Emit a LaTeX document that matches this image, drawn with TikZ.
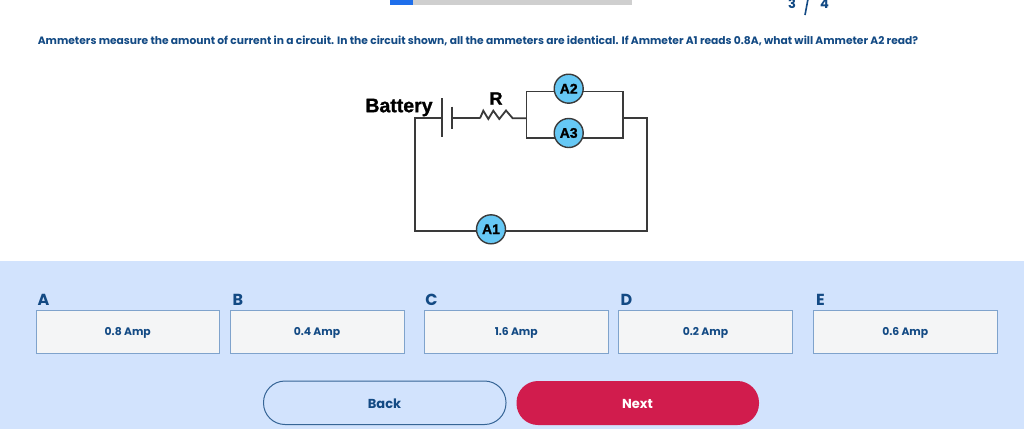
\documentclass[tikz,border=0pt]{standalone}
\usepackage{fontspec}
\setmainfont{Poppins}
\newfontfamily\wirefont{Liberation Sans Bold}[FakeBold=1.2]
\definecolor{navy}{HTML}{134A84}
\definecolor{panel}{HTML}{D2E3FD}
\definecolor{boxfill}{HTML}{F4F5F6}
\definecolor{boxline}{HTML}{7FA3CC}
\definecolor{meter}{HTML}{66C8F5}
\definecolor{wire}{HTML}{3A3A3A}
\definecolor{nextred}{HTML}{D11C4D}
\definecolor{barblue}{HTML}{1F6FEB}
\definecolor{bargrey}{HTML}{CFCFCF}
\tikzset{
  uitext/.style={text=navy,font=\bfseries\fontsize{#1}{#1}\selectfont,inner sep=0pt,anchor=center},
  answer/.style={draw=boxline,line width=1pt,fill=boxfill,inner sep=0pt,rectangle},
  meternode/.style={circle,draw=wire,line width=1.4pt,fill=meter,minimum size=29pt,inner sep=0pt,text=black,font=\wirefont\fontsize{14}{14}\selectfont},
  wireline/.style={draw=wire,line width=1.8pt,line join=miter},
  circlabel/.style={inner sep=0pt,text=black,font=\wirefont\fontsize{#1}{#1}\selectfont},
  pillbtn/.style={rounded corners=21.5pt,line width=1pt}
}
\begin{document}
\begin{tikzpicture}[x=1pt,y=-1pt]
\useasboundingbox (0,0) rectangle (1024,429);
\clip (0,0) rectangle (1024,429);
\fill[white] (0,0) rectangle (1024,429);
\fill[panel] (0,261) rectangle (1024,429);
% progress
\fill[bargrey] (390,-2) rectangle (632,5);
\fill[barblue] (390,-2) rectangle (413,5);
\node[uitext=13] (numa) at (792,3.5) {3};
\node[uitext=13] (numb) at (824.5,3.5) {4};
\draw[navy,line width=1.6pt] (808,-1) -- (805,15);
% question
\node[uitext=10.7] (question) at (478,40.5) {Ammeters measure the amount of current in a circuit. In the circuit shown, all the ammeters are identical. If Ammeter A1 reads 0.8A, what will Ammeter A2 read?};
% circuit
\coordinate (bl) at (414.7,231);
\coordinate (br) at (647,231);
\coordinate (tl) at (414.7,118);
\coordinate (tr) at (647,118);
\coordinate (rin) at (480,118.3);
\coordinate (rout) at (512.7,118.3);
\coordinate (jl) at (526.5,118.3);
\coordinate (jr) at (622.7,118);
\coordinate (plong) at (441.7,118);
\coordinate (pshort) at (452.3,118.3);
\coordinate (ltop) at (526.5,91.5);
\coordinate (rtop) at (622.7,91.5);
\coordinate (lbot) at (526.5,137.7);
\coordinate (rbot) at (622.7,137.7);
\draw[wireline] (plong) -- (tl) -- (bl) -- (br) -- (tr) -- (jr);
\draw[wireline] (ltop) -- (rtop) -- (rbot) -- (lbot) -- cycle;
\draw[wireline] (pshort) -- (rin);
\draw[wireline] (rin) -- (483.3,110.7) -- (488.3,119) -- (493.3,110.7) -- (499.3,119) -- (506,110.5) -- (rout) -- (jl);
\draw[wireline] (441.7,98.3) -- (441.7,137.3);
\draw[wireline] (452.3,106.7) -- (452.3,129.3);
\node[meternode] (a2) at (568.7,88.7) {A2};
\node[meternode] (a3) at (568.7,133) {A3};
\node[meternode] (a1) at (491,229.3) {A1};
\node[circlabel=19.5] (battery) at (399,107.5) {Battery};
\node[circlabel=18] (rlabel) at (496,98.5) {R};
% answers
\foreach \nm/\xa/\xb/\lx/\letter/\val in {
  boxa/36/219.5/43.5/A/0.8 Amp,
  boxb/230/404/238/B/0.4 Amp,
  boxc/424/608.5/431.5/C/1.6 Amp,
  boxd/618.5/792.5/626.5/D/0.2 Amp,
  boxe/813.5/997/820.5/E/0.6 Amp}{
  \draw[answer] (\xa,310) rectangle (\xb,353.5);
  \node[uitext=10.8] (\nm) at ({(\xa+\xb)/2},332.5) {\val};
  \node[uitext=16] (\nm-l) at (\lx,300) {\letter};
}
% buttons
\draw[pillbtn,draw=navy!85,fill=panel] (263.5,381) rectangle (506,424.5);
\fill[pillbtn,nextred] (516.5,381) rectangle (759,425);
\node[uitext=13] (back) at (384.5,404) {Back};
\node[uitext=13,text=white] (next) at (637.5,404) {Next};
\end{tikzpicture}
\end{document}
